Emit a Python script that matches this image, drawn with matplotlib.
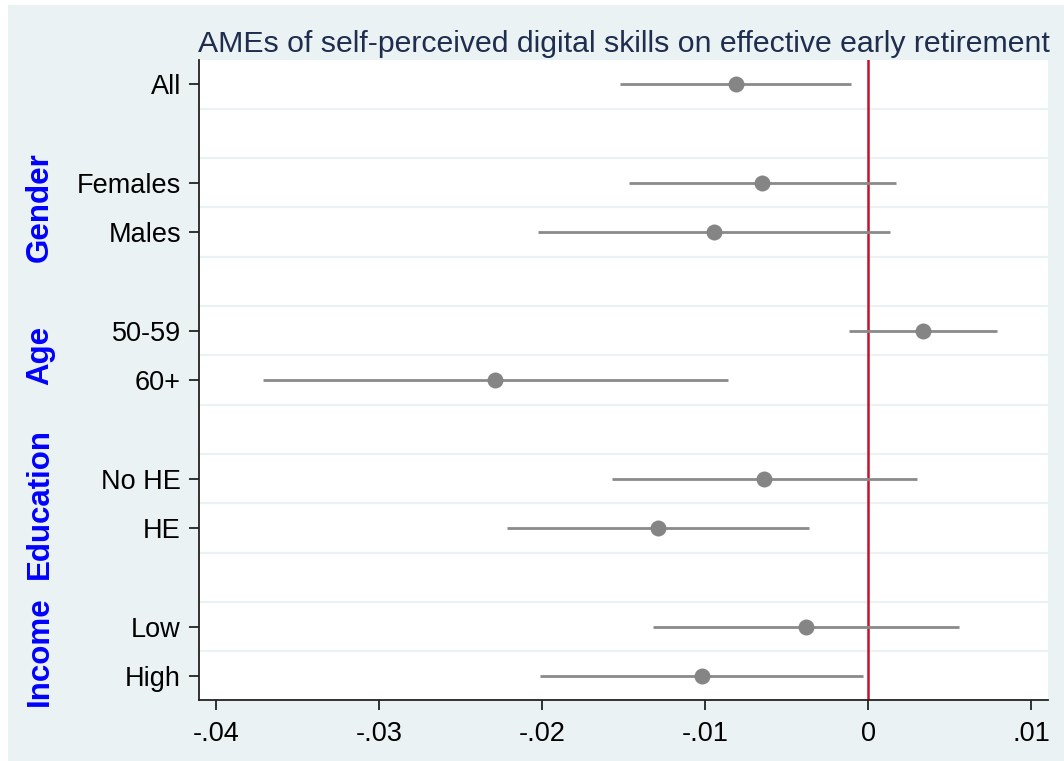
import matplotlib
matplotlib.use("Agg")
import matplotlib.pyplot as plt
from matplotlib.patches import Rectangle
from matplotlib.transforms import blended_transform_factory

plt.rcParams['font.family'] = ['Liberation Sans', 'DejaVu Sans']

# rows top to bottom, gaps are empty rows between groups
labels = ['All', '', 'Females', 'Males', '', '50-59', '60+', '', 'No HE', 'HE', '', 'Low', 'High']
estimate = [-0.00812, None, -0.00648, -0.00945, None, 0.00339, -0.02286, None, -0.00636, -0.01288, None, -0.00382, -0.0102]
ci_low = [-0.01521, None, -0.01467, -0.02023, None, -0.00114, -0.03712, None, -0.01571, -0.02212, None, -0.01321, -0.02012]
ci_high = [-0.00107, None, 0.00172, 0.00137, None, 0.00794, -0.00856, None, 0.00302, -0.00364, None, 0.00561, -0.00033]

groups = ['Gender', 'Age', 'Education', 'Income']
group_centre = [2.5, 5.5, 8.5, 11.5]

xticks = [-0.04, -0.03, -0.02, -0.01, 0, 0.01]
xticklabels = ['-.04', '-.03', '-.02', '-.01', '0', '.01']

bg = '#eaf2f3'

fig = plt.figure(figsize=(10.64, 7.61), dpi=100, facecolor='white')
fig.patches.append(Rectangle((8 / 1064, 0), 1, 1 - 5 / 761, transform=fig.transFigure,
                             facecolor=bg, edgecolor='none', zorder=-10))
ax = fig.add_axes([199 / 1064, 61 / 761, 849 / 1064, 640 / 761])
ax.set_facecolor('white')

# horizontal grid between rows
for k in range(len(labels) - 1):
    ax.axhline(k + 0.5, color=bg, lw=1.6, zorder=1)

ax.axvline(0, color='#c8102e', lw=1.8, zorder=2)

for i in range(len(labels)):
    if estimate[i] is None:
        continue
    ax.plot([ci_low[i], ci_high[i]], [i, i], color='#8a8a8a', lw=2, solid_capstyle='butt', zorder=3)
    ax.plot(estimate[i], i, 'o', color='#858585', markersize=11.5, markeredgewidth=0, zorder=4)

ax.set_xlim(-0.04104, 0.01104)
ax.set_ylim(12.49, -0.49)

rows = [i for i in range(len(labels)) if labels[i]]
ax.set_yticks(rows)
ax.set_yticklabels([labels[i] for i in rows], fontsize=19.5)
ax.set_xticks(xticks)
ax.set_xticklabels(xticklabels, fontsize=19.5)
ax.tick_params(axis='y', length=7, width=1.3, pad=6, color='#222222')
ax.tick_params(axis='x', length=7, width=1.3, pad=8, color='#222222')

for side in ['top', 'right']:
    ax.spines[side].set_visible(False)
for side in ['left', 'bottom']:
    ax.spines[side].set_linewidth(1.3)
    ax.spines[side].set_color('#222222')

ax.set_title('AMEs of self-perceived digital skills on effective early retirement',
             fontsize=21.8, color='#1f2d4f', pad=6)

trans = blended_transform_factory(fig.transFigure, ax.transData)
for name, yc in zip(groups, group_centre):
    ax.text(40 / 1064, yc, name, transform=trans, rotation=90, color='#0000ff',
            fontsize=22.5, fontweight='bold', ha='center', va='center')

fig.savefig('out.png', dpi=100, facecolor=fig.get_facecolor())
